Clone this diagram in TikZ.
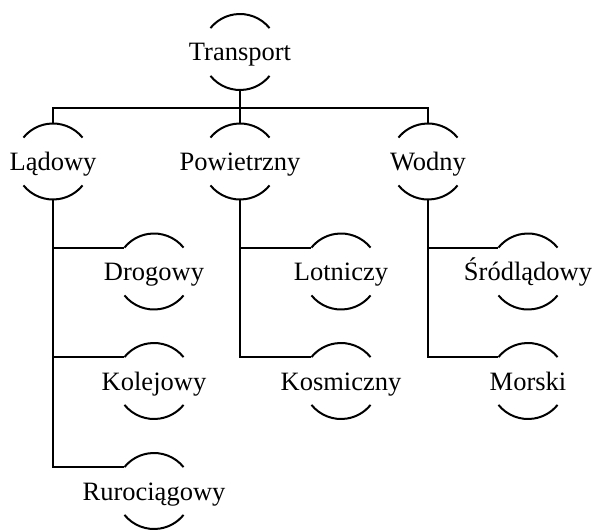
\documentclass[tikz,border=0pt]{standalone}
\usepackage{fontspec}
\setmainfont{Liberation Serif}
\begin{document}
\begin{tikzpicture}[x=1pt,y=1pt, line width=2pt,
  item/.style={circle, minimum size=76pt, inner sep=0pt, outer sep=0pt,
    text height=18pt, text depth=0pt,
    font=\fontsize{26.5}{30}\selectfont}]
\useasboundingbox (0,0) rectangle (593,-529);
\node[item] (T)  at (240,-52)    {\makebox[0pt]{Transport}};
\node[item] (L)  at (53,-161.5)  {\makebox[0pt]{Lądowy}};
\node[item] (P)  at (240,-161.5) {\makebox[0pt]{Powietrzny}};
\node[item] (W)  at (428,-161.5) {\makebox[0pt]{Wodny}};
\node[item] (D)  at (154,-271.5) {\makebox[0pt]{Drogowy}};
\node[item] (K)  at (154,-381)   {\makebox[0pt]{Kolejowy}};
\node[item] (R)  at (154,-491)   {\makebox[0pt]{Rurociągowy}};
\node[item] (Lo) at (341,-271.5) {\makebox[0pt]{Lotniczy}};
\node[item] (Ko) at (341,-381)   {\makebox[0pt]{Kosmiczny}};
\node[item] (S)  at (528,-271.5) {\makebox[0pt]{Śródlądowy}};
\node[item] (M)  at (528,-381)   {\makebox[0pt]{Morski}};
\foreach \n in {T,L,P,W,D,K,R,Lo,Ko,S,M} {
  \draw (\n.39) arc[start angle=39,end angle=141,radius=38pt];
  \draw (\n.219) arc[start angle=219,end angle=321,radius=38pt];
}
\coordinate (bus) at (0,-108);
\draw (T.south) -- (T.south |- bus);
\draw (P.north) -- (P.north |- bus);
\draw (L.north) -- (L.north |- bus) -- (W.north |- bus) -- (W.north);
\draw (L.south) |- (D.141);
\draw (L.south) |- (K.141);
\draw (L.south) |- (R.141);
\draw (P.south) |- (Lo.141);
\draw (P.south) |- (Ko.141);
\draw (W.south) |- (S.141);
\draw (W.south) |- (M.141);
\end{tikzpicture}
\end{document}
